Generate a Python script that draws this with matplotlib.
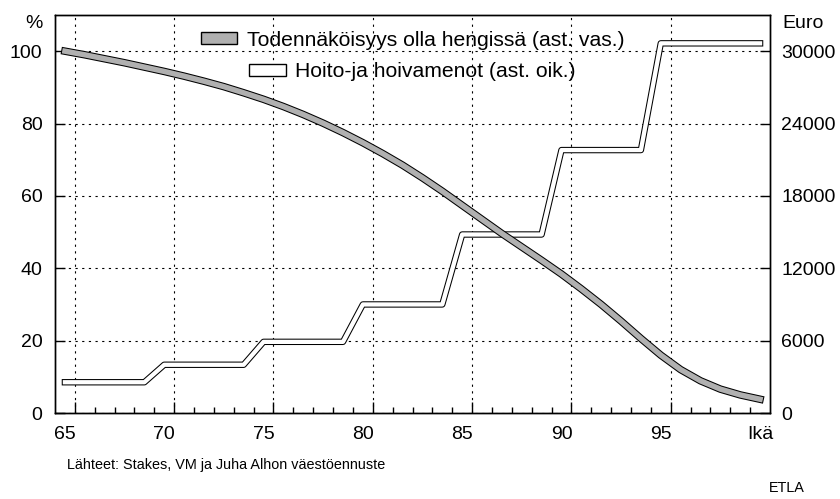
import matplotlib
matplotlib.use('Agg')
import matplotlib.pyplot as plt
from matplotlib.patches import Patch
import numpy as np

plt.rcParams['font.family'] = ['Liberation Sans', 'DejaVu Sans']

# ages 65..100, one point per age
ages = list(range(65, 101))

# probability of being alive, % (left axis)
survival = [100.0, 99.0, 97.9, 96.8, 95.6, 94.4, 93.1, 91.7, 90.2, 88.5,
            86.7, 84.7, 82.5, 80.1, 77.5, 74.7, 71.7, 68.5, 65.0, 61.3,
            57.4, 53.5, 49.6, 45.9, 42.2, 38.4, 34.3, 30.0, 25.4, 20.6,
            16.0, 12.0, 8.9, 6.6, 5.0, 3.8]

# care costs, euro (right axis)
costs = [2550, 2550, 2550, 2550, 2550,
         4000, 4000, 4000, 4000, 4000,
         5900, 5900, 5900, 5900, 5900,
         9000, 9000, 9000, 9000, 9000,
         14800, 14800, 14800, 14800, 14800,
         21800, 21800, 21800, 21800, 21800,
         30650, 30650, 30650, 30650, 30650, 30650]

x_label_pos = [65, 70, 75, 80, 85, 90, 95, 100]
x_labels = ['65', '70', '75', '80', '85', '90', '95', 'Ikä']
left_ticks = [0, 20, 40, 60, 80, 100]
right_ticks = [0, 6000, 12000, 18000, 24000, 30000]

label_survival = 'Todennäköisyys olla hengissä (ast. vas.)'
label_costs = 'Hoito-ja hoivamenot (ast. oik.)'

W, H = 840, 499
fig = plt.figure(figsize=(W / 100, H / 100), dpi=100)
ax = fig.add_axes([55 / W, 1 - 413 / H, (770 - 55) / W, (413 - 15) / H])

# euro axis (bottom layer, carries the grid)
ax.set_xlim(64.5, 100.5)
ax.set_ylim(0, 33000)
ax.set_xticks(np.arange(65.5, 96, 5))
ax.set_xticks(np.arange(65.5, 100, 1), minor=True)
ax.tick_params(axis='x', which='major', direction='in', length=8, width=1, labelbottom=False)
ax.tick_params(axis='x', which='minor', direction='in', length=4.5, width=1)
ax.set_yticks(right_ticks)
ax.grid(True, which='major', color='black', linestyle=(0, (2, 4)), linewidth=0.8)

ax.plot(ages, costs, color='black', lw=4.6, solid_capstyle='projecting', solid_joinstyle='round')
ax.plot(ages, costs, color='white', lw=3.1, solid_capstyle='projecting', solid_joinstyle='round')

# percent axis (top layer)
axL = ax.twinx()
axL.yaxis.tick_left()
ax.yaxis.tick_right()
axL.set_ylim(0, 110)
axL.set_yticks(left_ticks)
ax.tick_params(axis='y', direction='in', length=7, width=1, pad=8, labelsize=14)
axL.tick_params(axis='y', direction='in', length=7, width=1, pad=9, labelsize=14)

axL.plot(ages, survival, color='black', lw=5.4, solid_capstyle='projecting', solid_joinstyle='round')
axL.plot(ages, survival, color='#b0b0b0', lw=3.9, solid_capstyle='projecting', solid_joinstyle='round')

for a in (ax, axL):
    for s in a.spines.values():
        s.set_linewidth(1.0)

for pos, lab in zip(x_label_pos, x_labels):
    ax.text(pos, -0.032, lab, transform=ax.get_xaxis_transform(),
            ha='center', va='top', fontsize=14)

h1 = Patch(facecolor='#b0b0b0', edgecolor='black', linewidth=1)
h2 = Patch(facecolor='white', edgecolor='black', linewidth=1)
leg_kw = dict(loc='center', frameon=False, fontsize=15.2, handlelength=1.75,
              handleheight=0.48, handletextpad=0.45, borderpad=0, borderaxespad=0)
leg1 = axL.legend([h1], [label_survival], bbox_to_anchor=(0.5, 0.937), **leg_kw)
axL.add_artist(leg1)
axL.legend([h2], [label_costs], bbox_to_anchor=(0.5, 0.857), **leg_kw)

fig.text(43 / W, 1 - 24 / H, '%', ha='right', va='center', fontsize=14)
fig.text(782 / W, 1 - 24 / H, 'Euro', ha='left', va='center', fontsize=14)
fig.text(67 / W, 1 - 465 / H, 'Lähteet: Stakes, VM ja Juha Alhon väestöennuste',
         ha='left', va='center', fontsize=10.4)
fig.text(805 / W, 1 - 488 / H, 'ETLA', ha='right', va='center', fontsize=10.4)

fig.savefig('out.png', dpi=100)
